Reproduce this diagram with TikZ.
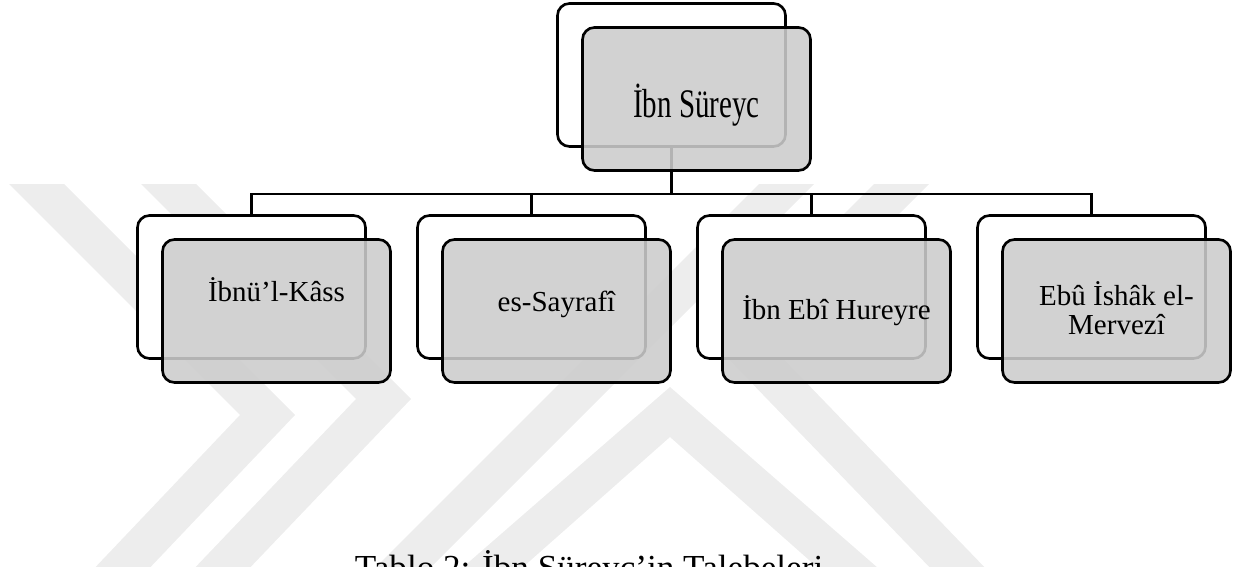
\documentclass[tikz,border=0pt]{standalone}
\usepackage{fontspec}
\setmainfont{Liberation Serif}
\usetikzlibrary{positioning}

\tikzset{
	backbox/.style = {draw, line width=1.5pt, rounded corners=2.4mm, fill=white,
		minimum width=45.6mm, minimum height=28.6mm, inner sep=0pt},
	frontbox/.style = {backbox, fill=black!20, fill opacity=0.88},
	link/.style = {line width=1.2pt},
	label/.style = {font=\fontsize{16.5}{17}\selectfont, inner sep=0pt, anchor=base, align=center},
	wm/.style = {fill=black!7, draw=none}
}

\begin{document}
\begin{tikzpicture}[x=0.2mm, y=-0.2mm]
	\useasboundingbox (0,0) rectangle (1251,567);

	% watermark in the background
	\begin{scope}
		\clip (0,185) rectangle (1251,567);
		\fill[wm] (8,183) -- (63,183) -- (295,415) -- (143,575) -- (88,575) -- (240,415) -- cycle;
		\fill[wm] (140,183) -- (195,183) -- (411,399) -- (243,575) -- (188,575) -- (356,399) -- cycle;
		\fill[wm] (368,575) -- (423,575) -- (815,183) -- (760,183) -- cycle;
		\fill[wm] (454,575) -- (670,387) -- (886,575) -- (826,575) -- (670,437) -- (514,575) -- cycle;
		\fill[wm] (875,183) -- (930,183) -- (769,344) -- (992,575) -- (937,575) -- (714,344) -- cycle;
	\end{scope}

	% root
	\node[backbox] (rb) at (671.5,75) {};
	\coordinate (bar) at (671.5,194);
	\draw[link] (rb.south) -- (rb.south |- bar);
	\node[frontbox] (rf) at ([shift={(25,24)}]rb) {};
	\node[label] (rt) at (696.5,118) {\scalebox{1}[1.4]{İbn Süreyc}};

	% students
	\foreach \i/\t/\y in {1/{İbnü’l-Kâss}/302, 2/{es-Sayrafî}/312, 3/{İbn Ebî Hureyre}/320, 4/{Ebû İshâk el-\\Mervezî}/335}
	{
		\node[backbox] (b\i) at ({251.5+280*(\i-1)},287) {};
		\node[frontbox] (f\i) at ([shift={(25,24)}]b\i) {};
		\node[label] (t\i) at ({276.5+280*(\i-1)},\y) {\t};
	}
	\draw[link] (b1.north) |- (b4.north |- bar) -- (b4.north);
	\draw[link] (b2.north) -- (b2.north |- bar);
	\draw[link] (b3.north) -- (b3.north |- bar);

	% caption, cut by the lower edge
	\node[label, font=\fontsize{20}{22}\selectfont] (cap) at (589,580) {Tablo 2: İbn Süreyc’in Talebeleri};
\end{tikzpicture}
\end{document}
